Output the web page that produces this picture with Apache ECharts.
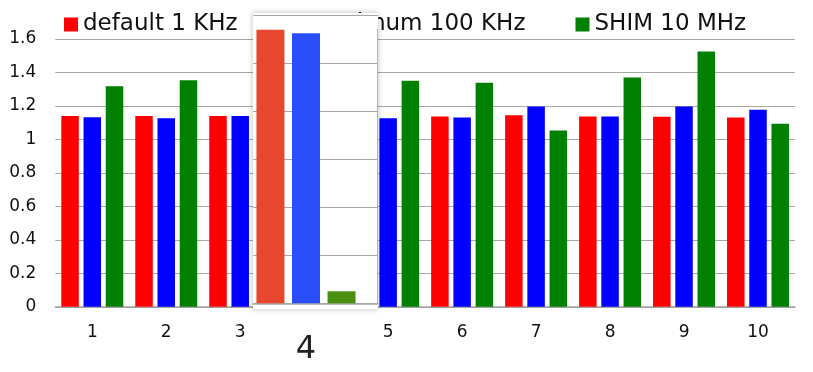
<!DOCTYPE html>
<html>
<head>
<meta charset="utf-8">
<script src="https://cdn.jsdelivr.net/npm/echarts@6/dist/echarts.min.js"></script>
<style>
html,body{margin:0;padding:0;background:#fff;}
#chart{width:813px;height:372px;}
</style>
</head>
<body>
<div id="chart"></div>
<script>
// ---- data ----
const categories = ['1','2','3','4','5','6','7','8','9','10'];
const seriesNames = ['default 1 KHz', 'maximum 100 KHz', 'SHIM 10 MHz'];
const defaultVals = [1.14, 1.14, 1.14, 1.14, 1.13, 1.137, 1.145, 1.137, 1.135, 1.131];
const maximumVals = [1.133, 1.127, 1.14, 1.125, 1.127, 1.131, 1.197, 1.137, 1.197, 1.177];
const shimVals    = [1.318, 1.354, 1.33, 0.05, 1.35, 1.338, 1.054, 1.37, 1.525, 1.093];
const zoomIndex = 3; // category "4" shown magnified

const mainColors = ['#ff0000', '#0000ff', '#008000'];
const zoomColors = ['#e8472e', '#2a4dfa', '#4a9010'];
const FONT = 'DejaVu Sans';

const chart = echarts.init(document.getElementById('chart'), null, {renderer: 'canvas'});
const allVals = [defaultVals, maximumVals, shimVals];

const series = [];
allVals.forEach((vals, k) => {
  series.push({
    name: seriesNames[k], type: 'bar', xAxisIndex: 0, yAxisIndex: 0,
    data: vals, barWidth: 17.5, barGap: '27%',
    itemStyle: {color: mainColors[k]}, z: 2, animation: false
  });
});
allVals.forEach((vals, k) => {
  series.push({
    name: seriesNames[k] + ' (zoom)', type: 'bar', xAxisIndex: 1, yAxisIndex: 1,
    data: [vals[zoomIndex]], barWidth: 28, barGap: '27%',
    itemStyle: {color: zoomColors[k]}, z: 22, animation: false
  });
});

const grayLine = {lineStyle: {color: '#a8a8a8', width: 1}};

chart.setOption({
  animation: false,
  textStyle: {fontFamily: FONT},
  legend: {
    data: seriesNames.map((n, k) => ({name: n, itemStyle: {color: mainColors[k]}})),
    left: 59, top: 8, icon: 'rect', itemWidth: 14, itemHeight: 14, itemGap: 50,
    textStyle: {fontFamily: FONT, fontSize: 23, color: '#111'}, z: 4
  },
  grid: [
    {left: 55.3, right: 18, top: 39, bottom: 65.2},
    {left: 246, top: 15.3, width: 120, height: 288},
    {left: 253, top: 15.3, width: 125, height: 288}
  ],
  xAxis: [
    {type: 'category', gridIndex: 0, data: categories,
     axisLine: {show: true, lineStyle: {color: '#a0a0a0', width: 1.5}},
     axisTick: {show: false},
     axisLabel: {fontFamily: FONT, fontSize: 17, color: '#111', margin: 17,
                 interval: (i) => i !== zoomIndex}},
    {type: 'category', gridIndex: 1, data: [categories[zoomIndex]],
     axisLine: {show: false}, axisTick: {show: false}, z: 21,
     axisLabel: {fontFamily: FONT, fontSize: 32, color: '#222', margin: 30}},
    {type: 'category', gridIndex: 2, data: [''],
     axisLine: {show: true, lineStyle: {color: '#a8a8a8', width: 1.5}},
     axisTick: {show: false}, axisLabel: {show: false}, z: 21}
  ],
  yAxis: [
    {type: 'value', gridIndex: 0, min: 0, max: 1.6, interval: 0.2,
     axisLine: {show: false}, axisTick: {show: false},
     splitLine: grayLine,
     axisLabel: {fontFamily: FONT, fontSize: 17, color: '#111', margin: 19}},
    {type: 'value', gridIndex: 1, min: 0, max: 1.2, interval: 0.2, show: false},
    {type: 'value', gridIndex: 2, min: 0, max: 1.2, interval: 0.2,
     axisLine: {show: false}, axisTick: {show: false}, axisLabel: {show: false},
     splitLine: grayLine, z: 21}
  ],
  graphic: {
    elements: [
      {type: 'rect', z: 20, shape: {x: 253, y: 13, width: 125, height: 296},
       style: {fill: '#ffffff', shadowBlur: 6, shadowColor: 'rgba(0,0,0,0.25)'}},
      {type: 'line', z: 20, shape: {x1: 377.5, y1: 29, x2: 377.5, y2: 304},
       style: {stroke: '#e6a0a0', lineWidth: 1}}
    ]
  },
  series: series
});
</script>
</body>
</html>
